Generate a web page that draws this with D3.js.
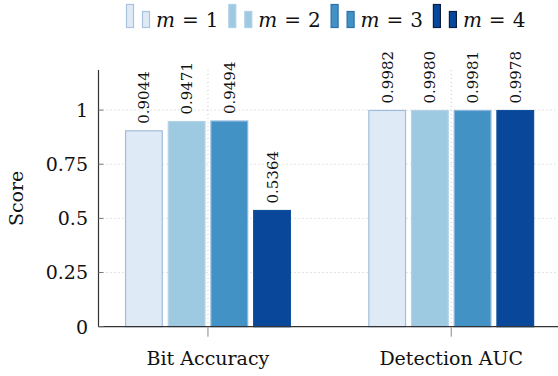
<html>
<head>
    <script src="https://d3js.org/d3.v7.min.js"></script>
    <style>
        body { margin: 0; background: white; }
        text { font-family: "DejaVu Serif", "Liberation Serif", serif; fill: #111; }
        .grid { stroke: #c8c8c8; stroke-width: 1px; stroke-dasharray: 1,3; }
    </style>
</head>
<body>
    <svg id="chart" width="558" height="376"></svg>
    <script>
        const categories = ["Bit Accuracy", "Detection AUC"];
        const series = ["m = 1", "m = 2", "m = 3", "m = 4"];
        const mValues = ["1", "2", "3", "4"];
        const bitAccuracy = [0.9044, 0.9471, 0.9494, 0.5364];
        const detectionAUC = [0.9982, 0.9980, 0.9981, 0.9978];
        const yTicks = [0, 0.25, 0.5, 0.75, 1];
        const yTickLabels = ["0", "0.25", "0.5", "0.75", "1"];

        const fills = ["#deebf7", "#9ecae1", "#4292c6", "#08479a"];
        const strokes = ["#a3bcdd", "#b4d2e7", "#8ab6db", "#0d4f9c"];
        const legendStrokes = ["#a9c2e0", "#b0d0e6", "#2c6fa8", "#0a1f3f"];

        const svg = d3.select("#chart");
        const plotLeft = 98.5, plotRight = 558, plotTop = 70, plotBottom = 326.7;

        const y = d3.scaleLinear().domain([0, 1.185]).range([plotBottom, plotTop]);
        const x = d3.scalePoint().domain(categories).range([98.5, 560.7]).padding(0.45);
        const inner = d3.scaleBand().domain(series).range([-85.4, 85.4])
            .paddingInner(0.117).paddingOuter(0.0585);

        const data = [];
        categories.forEach((c, ci) => {
            const vals = ci == 0 ? bitAccuracy : detectionAUC;
            series.forEach((s, si) => data.push({ cat: c, s: s, si: si, v: vals[si] }));
        });

        // grid
        svg.selectAll("line.hgrid").data(yTicks.slice(1))
            .join("line").attr("class", "grid")
            .attr("x1", plotLeft).attr("x2", plotRight)
            .attr("y1", d => y(d)).attr("y2", d => y(d));
        svg.selectAll("line.vgrid").data(categories)
            .join("line").attr("class", "grid")
            .attr("x1", d => x(d)).attr("x2", d => x(d))
            .attr("y1", plotTop).attr("y2", plotBottom);

        // bars
        svg.selectAll("rect.bar").data(data)
            .join("rect").attr("class", "bar")
            .attr("x", d => x(d.cat) + inner(d.s) + 0.5)
            .attr("width", inner.bandwidth() - 1)
            .attr("y", d => y(d.v))
            .attr("height", d => plotBottom - y(d.v))
            .attr("fill", d => fills[d.si])
            .attr("stroke", d => strokes[d.si])
            .attr("stroke-width", 1.2);

        // value labels
        svg.selectAll("text.val").data(data)
            .join("text").attr("class", "val")
            .attr("transform", d => {
                const cx = x(d.cat) + inner(d.s) + inner.bandwidth() / 2 + 5.5;
                return `translate(${cx},${y(d.v) - 7}) rotate(-90)`;
            })
            .style("font-size", "15px")
            .style("font-weight", "300")
            .text(d => d.v.toFixed(4));

        // axes
        svg.append("line").attr("x1", plotLeft).attr("x2", plotLeft).attr("y1", plotTop).attr("y2", plotBottom)
            .attr("stroke", "#333").attr("stroke-width", 1.2);
        svg.append("line").attr("x1", plotLeft).attr("x2", plotRight).attr("y1", plotBottom).attr("y2", plotBottom)
            .attr("stroke", "#333").attr("stroke-width", 1.2);

        svg.selectAll("line.ytick").data(yTicks)
            .join("line").attr("class", "ytick")
            .attr("x1", plotLeft).attr("x2", plotLeft + 5)
            .attr("y1", d => y(d)).attr("y2", d => y(d))
            .attr("stroke", "#777").attr("stroke-width", 1);
        svg.selectAll("text.ytl").data(yTicks)
            .join("text").attr("class", "ytl")
            .attr("x", 88).attr("y", d => y(d)).attr("dy", "0.36em")
            .attr("text-anchor", "end")
            .style("font-size", "19px")
            .text((d, i) => yTickLabels[i]);

        svg.selectAll("line.xtick").data(categories)
            .join("line").attr("class", "xtick")
            .attr("x1", d => x(d)).attr("x2", d => x(d))
            .attr("y1", plotBottom).attr("y2", plotBottom + 10)
            .attr("stroke", "#888").attr("stroke-width", 1);
        svg.selectAll("text.xtl").data(categories)
            .join("text").attr("class", "xtl")
            .attr("x", d => x(d)).attr("y", 365)
            .attr("text-anchor", "middle")
            .style("font-size", "19px")
            .text(d => d);

        svg.append("text")
            .attr("transform", `translate(23,${(plotTop + plotBottom) / 2}) rotate(-90)`)
            .attr("text-anchor", "middle")
            .style("font-size", "19px")
            .text("Score");

        // legend
        const legend = svg.selectAll("g.leg").data(series)
            .join("g").attr("class", "leg")
            .attr("transform", (d, i) => `translate(${126 + i * 102.3},0)`);
        legend.append("rect").attr("x", 0.5).attr("y", 4.5).attr("width", 7).attr("height", 23)
            .attr("fill", (d, i) => fills[i]).attr("stroke", (d, i) => legendStrokes[i]).attr("stroke-width", 1.2);
        legend.append("rect").attr("x", 16.5).attr("y", 11.5).attr("width", 7).attr("height", 16)
            .attr("fill", (d, i) => fills[i]).attr("stroke", (d, i) => legendStrokes[i]).attr("stroke-width", 1.2);
        const lt = legend.append("text").attr("x", 30).attr("y", 27).style("font-size", "20px");
        lt.append("tspan").style("font-style", "italic").text("m");
        lt.append("tspan").attr("dx", 7).text("=");
        lt.append("tspan").attr("dx", 7).text((d, i) => mValues[i]);
    </script>
</body>
</html>
